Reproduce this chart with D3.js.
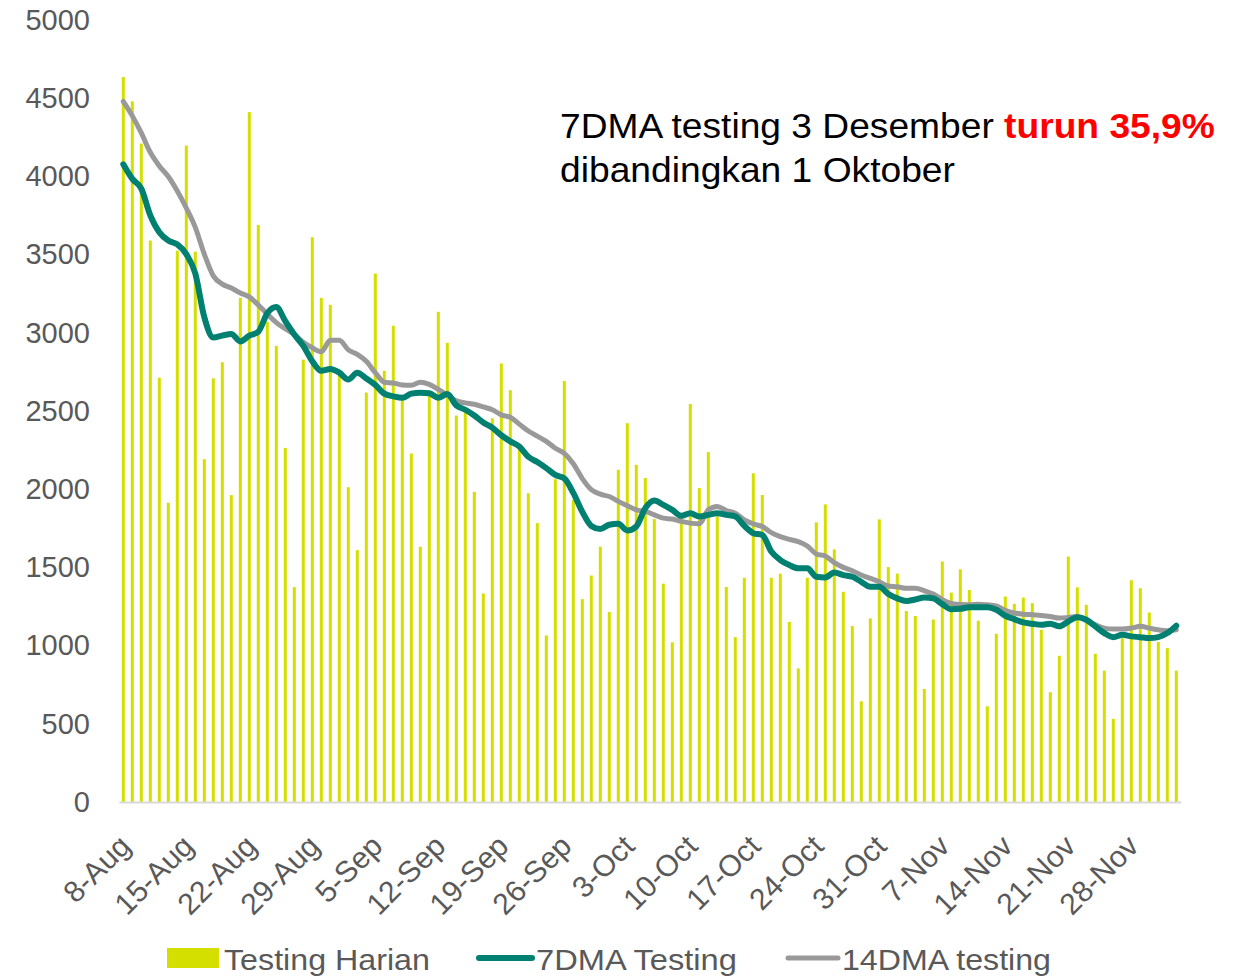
<!DOCTYPE html>
<head>
  <meta charset="utf-8">
  <script src="https://d3js.org/d3.v7.min.js"></script>
  <style>
    body { margin:0; background:#fff; }
    text { font-family: "Liberation Sans", Arial, sans-serif; }
  </style>
</head>
<body>
  <svg width="1239" height="977"></svg>
  <script>
    var svg = d3.select("svg");

    // daily tests, 8 Aug .. 3 Dec
    var harian = [4635, 4480, 4210, 3590, 2713, 1913, 3525, 4197, 3519, 2192,
      2709, 2812, 1962, 3224, 4411, 3689, 3069, 2917, 2264, 1374,
      2828, 3611, 3223, 3179, 2760, 2013, 1610, 2618, 3379, 2757,
      3045, 2600, 2228, 1632, 2620, 3134, 2936, 2471, 2492, 1983,
      1333, 2453, 2804, 2633, 2251, 1974, 1783, 1065, 2064, 2692,
      1932, 1297, 1448, 1632, 1215, 2124, 2422, 2156, 2071, 1809,
      1396, 1021, 1830, 2545, 2007, 2237, 1826, 1375, 1054, 1434,
      2102, 1963, 1434, 1460, 1152, 854, 1434, 1788, 1903, 1615,
      1344, 1125, 644, 1174, 1807, 1502, 1460, 1221, 1189, 723,
      1167, 1538, 1339, 1488, 1356, 1159, 612, 1076, 1314, 1267,
      1307, 1271, 1101, 702, 935, 1569, 1373, 1261, 948, 840,
      532, 1048, 1418, 1367, 1212, 1023, 984, 840];

    var dma7 = [4077, 3984, 3922, 3751, 3643, 3590, 3565, 3503, 3379, 3100,
      2970, 2982, 2992, 2945, 2982, 3007, 3125, 3165, 3074, 2989,
      2916, 2818, 2757, 2769, 2745, 2701, 2745, 2708, 2667, 2611,
      2594, 2584, 2611, 2617, 2613, 2585, 2608, 2536, 2508, 2471,
      2427, 2394, 2345, 2306, 2273, 2207, 2174, 2135, 2091, 2069,
      1976, 1855, 1765, 1745, 1773, 1779, 1736, 1762, 1879, 1928,
      1900, 1868, 1830, 1847, 1826, 1836, 1847, 1836, 1826, 1766,
      1719, 1707, 1601, 1547, 1515, 1494, 1494, 1440, 1436, 1468,
      1451, 1440, 1408, 1376, 1376, 1330, 1302, 1285, 1295, 1308,
      1302, 1265, 1233, 1235, 1246, 1246, 1246, 1229, 1191, 1169,
      1148, 1140, 1133, 1140, 1123, 1154, 1182, 1165, 1123, 1080,
      1054, 1069, 1059, 1054, 1048, 1054, 1080, 1127];

    var dma14 = [4480, 4387, 4278, 4154, 4067, 3999, 3906, 3798, 3674, 3503,
      3364, 3311, 3286, 3255, 3230, 3178, 3120, 3065, 3026, 2989,
      2940, 2904, 2879, 2952, 2952, 2891, 2862, 2818, 2745, 2684,
      2679, 2667, 2665, 2684, 2670, 2638, 2602, 2565, 2552, 2543,
      2526, 2508, 2475, 2460, 2416, 2372, 2339, 2306, 2262, 2229,
      2163, 2068, 1997, 1968, 1953, 1922, 1894, 1868, 1858, 1836,
      1815, 1809, 1794, 1783, 1779, 1868, 1890, 1864, 1847, 1804,
      1778, 1761, 1722, 1697, 1679, 1665, 1637, 1586, 1573, 1530,
      1500, 1479, 1451, 1430, 1408, 1381, 1376, 1366, 1366, 1351,
      1330, 1294, 1270, 1262, 1261, 1265, 1261, 1254, 1225, 1208,
      1201, 1197, 1193, 1186, 1176, 1180, 1186, 1165, 1133, 1112,
      1106, 1106, 1112, 1123, 1112, 1101, 1095, 1101];

    var tickLabels = ["8-Aug", "15-Aug", "22-Aug", "29-Aug", "5-Sep", "12-Sep", "19-Sep",
      "26-Sep", "3-Oct", "10-Oct", "17-Oct", "24-Oct", "31-Oct", "7-Nov", "14-Nov",
      "21-Nov", "28-Nov"];
    var yTicks = [0, 500, 1000, 1500, 2000, 2500, 3000, 3500, 4000, 4500, 5000];

    var fmt = d3.timeFormat("%-d-%b");
    var days = d3.timeDay.range(new Date(2020, 7, 8), new Date(2020, 11, 4)).map(fmt);

    var x = d3.scaleBand()
      .domain(days)
      .range([118.8, 1180.8])
      .paddingInner(0.667)
      .paddingOuter(0.333);

    var y = d3.scaleLinear().domain([0, 5000]).range([802, 20]);

    var cx = function(i) { return x(days[i]) + x.bandwidth() / 2; };

    // y axis labels only
    var yAxis = d3.axisLeft(y).tickValues(yTicks).tickSize(0).tickPadding(0).tickFormat(d3.format("d"));
    svg.append("g")
      .attr("transform", "translate(90,0)")
      .call(yAxis)
      .call(function(g) { g.select(".domain").remove(); })
      .selectAll("text")
      .attr("font-family", "Liberation Sans, Arial, sans-serif")
      .attr("font-size", 29)
      .attr("fill", "#595959");

    // bars
    svg.append("g").selectAll("rect")
      .data(harian)
      .enter()
      .append("rect")
      .attr("x", function(d, i) { return x(days[i]); })
      .attr("width", x.bandwidth())
      .attr("y", function(d) { return y(d); })
      .attr("height", function(d) { return y(0) - y(d); })
      .attr("fill", "#d4df00");

    // x axis line
    var xAxis = d3.axisBottom(x).tickValues(tickLabels).tickSize(0).tickFormat("");
    svg.append("g")
      .attr("transform", "translate(0,802)")
      .call(xAxis)
      .select(".domain")
      .attr("stroke", "#d9d9d9")
      .attr("stroke-width", 2);

    // x tick labels, rotated
    svg.append("g").selectAll("text")
      .data(tickLabels)
      .enter()
      .append("text")
      .attr("transform", function(d) {
        return "translate(" + (x(d) + x.bandwidth() / 2 + 9) + ",848) rotate(-45)";
      })
      .attr("text-anchor", "end")
      .attr("font-size", 30)
      .attr("fill", "#595959")
      .text(function(d) { return d; });

    var line = d3.line()
      .x(function(d, i) { return cx(i); })
      .y(function(d) { return y(d); })
      .curve(d3.curveMonotoneX);

    svg.append("path")
      .attr("d", line(dma14))
      .attr("fill", "none")
      .attr("stroke", "#999999")
      .attr("stroke-width", 5)
      .attr("stroke-linejoin", "round")
      .attr("stroke-linecap", "round");

    svg.append("path")
      .attr("d", line(dma7))
      .attr("fill", "none")
      .attr("stroke", "#008070")
      .attr("stroke-width", 6)
      .attr("stroke-linejoin", "round")
      .attr("stroke-linecap", "round");

    // squeeze a text element to a target width
    function fitWidth(sel, x0, w) {
      var n = sel.node().getComputedTextLength();
      var k = w / n;
      sel.attr("transform", "translate(" + x0 + ",0) scale(" + k + ",1)");
    }

    // annotation
    var note1 = svg.append("text").attr("y", 138).attr("font-size", 35).attr("fill", "#000");
    note1.append("tspan").text("7DMA testing 3 Desember ");
    note1.append("tspan").attr("fill", "#ff0000").attr("font-weight", "bold").text("turun 35,9%");
    fitWidth(note1, 560, 655);

    var note2 = svg.append("text").attr("y", 182).attr("font-size", 35).attr("fill", "#000")
      .text("dibandingkan 1 Oktober");
    fitWidth(note2, 560, 395);

    // legend
    var legend = svg.append("g");
    legend.append("rect").attr("x", 167).attr("y", 948).attr("width", 52).attr("height", 20).attr("fill", "#d4df00");
    var l1 = legend.append("text").attr("y", 970).attr("font-size", 30).attr("fill", "#595959").text("Testing Harian");
    fitWidth(l1, 224, 206);

    legend.append("line").attr("x1", 479).attr("x2", 532).attr("y1", 958).attr("y2", 958)
      .attr("stroke", "#008070").attr("stroke-width", 6).attr("stroke-linecap", "round");
    var l2 = legend.append("text").attr("y", 970).attr("font-size", 30).attr("fill", "#595959").text("7DMA Testing");
    fitWidth(l2, 536, 201);

    legend.append("line").attr("x1", 788).attr("x2", 838).attr("y1", 958).attr("y2", 958)
      .attr("stroke", "#999999").attr("stroke-width", 5).attr("stroke-linecap", "round");
    var l3 = legend.append("text").attr("y", 970).attr("font-size", 30).attr("fill", "#595959").text("14DMA testing");
    fitWidth(l3, 842, 209);
  </script>
</body>
